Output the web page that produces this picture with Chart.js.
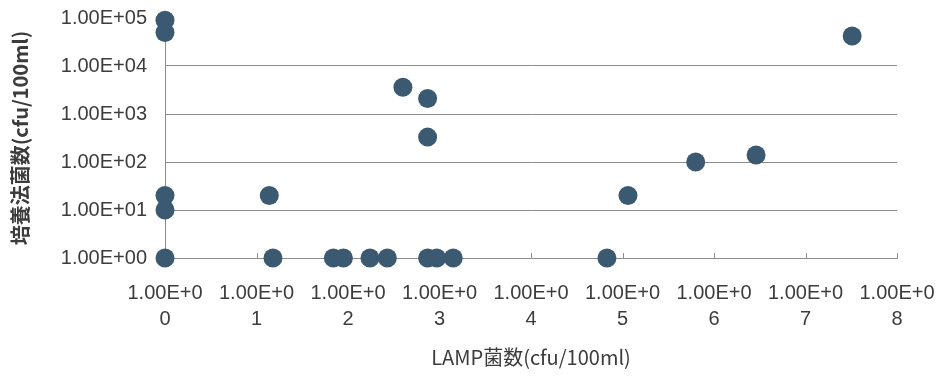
<!DOCTYPE html>
<html>
<head>
<meta charset="utf-8">
<script src="https://cdn.jsdelivr.net/npm/chart.js@4/dist/chart.umd.min.js"></script>
<style>
  html, body { margin: 0; padding: 0; background: #ffffff; }
  #wrap { width: 938px; height: 376px; position: relative; }
</style>
</head>
<body>
<div id="wrap"><canvas id="c" width="938" height="376"></canvas></div>
<script>
// LAMP count (exponent position on the x axis) vs. culture count (cfu/100ml)
const lampExp = [0, 0, 0, 0, 0, 1.14, 1.18, 1.84, 1.95, 2.24, 2.43, 2.87, 2.97, 3.15, 2.60, 2.87, 2.87, 4.83, 5.06, 5.80, 6.46, 7.51];
const cultureCfu = [90000, 50000, 20, 10, 1, 20, 1, 1, 1, 1, 1, 1, 1, 1, 3600, 2100, 330, 1, 20, 100, 140, 42000];

// Tick labels
const xTickLabels = [
  ['1.00E+0', '0'], ['1.00E+0', '1'], ['1.00E+0', '2'], ['1.00E+0', '3'], ['1.00E+0', '4'],
  ['1.00E+0', '5'], ['1.00E+0', '6'], ['1.00E+0', '7'], ['1.00E+0', '8']
];
const yTickValues = [1, 10, 100, 1000, 10000, 100000];
const yTickLabels = ['1.00E+00', '1.00E+01', '1.00E+02', '1.00E+03', '1.00E+04', '1.00E+05'];

const points = lampExp.map((x, i) => ({ x: x, y: cultureCfu[i] }));

const AXIS_GRAY = '#8c8c8c';
const TEXT = '#3c3c3c';
const DOT = '#3b5970';

// short upward tick marks on the x axis
const innerTicks = {
  id: 'innerTicks',
  beforeDatasetsDraw(chart) {
    const xs = chart.scales.x;
    const y0 = chart.scales.y.getPixelForValue(1);
    const ctx = chart.ctx;
    ctx.save();
    ctx.strokeStyle = AXIS_GRAY;
    ctx.lineWidth = 1;
    xs.ticks.forEach(t => {
      const px = Math.round(xs.getPixelForValue(t.value)) + 0.5;
      ctx.beginPath();
      ctx.moveTo(px, y0);
      ctx.lineTo(px, y0 - 5);
      ctx.stroke();
    });
    ctx.restore();
  }
};

new Chart(document.getElementById('c'), {
  type: 'scatter',
  data: {
    datasets: [{
      data: points,
      backgroundColor: DOT,
      borderWidth: 0,
      pointRadius: 9.5,
      pointHoverRadius: 9.5,
      clip: false
    }]
  },
  options: {
    responsive: false,
    animation: false,
    events: [],
    layout: { padding: { left: 0, right: 41, top: 18, bottom: 0 } },
    plugins: { legend: { display: false }, tooltip: { enabled: false } },
    scales: {
      x: {
        type: 'linear',
        min: 0,
        max: 8,
        afterBuildTicks(scale) {
          scale.ticks = xTickLabels.map((_, i) => ({ value: i }));
        },
        afterFit(scale) {
          scale.height = 118;
          scale.paddingLeft = 0;
          scale.paddingRight = 0;
        },
        ticks: {
          callback: (v) => xTickLabels[v],
          color: TEXT,
          font: { family: '"Liberation Sans", Arial, sans-serif', size: 20, lineHeight: 1.3 },
          padding: 22,
          maxRotation: 0,
          autoSkip: false
        },
        grid: { display: false, drawTicks: false },
        border: { display: true, color: AXIS_GRAY, width: 1 },
        title: {
          display: true,
          text: 'LAMP菌数(cfu/100ml)',
          color: TEXT,
          font: { family: '"Noto Sans CJK JP", "Noto Sans", sans-serif', size: 20, lineHeight: 1.2 },
          padding: { top: 0, bottom: 7 }
        }
      },
      y: {
        type: 'logarithmic',
        min: 1,
        max: 100000,
        afterBuildTicks(scale) {
          scale.ticks = yTickValues.map(v => ({ value: v }));
        },
        afterFit(scale) {
          scale.width = 165;
          scale.paddingTop = 0;
          scale.paddingBottom = 0;
        },
        ticks: {
          callback: (v) => yTickLabels[yTickValues.indexOf(v)],
          color: TEXT,
          font: { family: '"Liberation Sans", Arial, sans-serif', size: 20 },
          padding: 18
        },
        grid: {
          drawTicks: false,
          color: (ctx) => (ctx.tick && (ctx.tick.value === 100000 || ctx.tick.value === 1)) ? 'rgba(0,0,0,0)' : AXIS_GRAY,
          lineWidth: 1
        },
        border: { display: true, color: AXIS_GRAY, width: 1 },
        title: {
          display: true,
          text: '培養法菌数(cfu/100ml)',
          color: TEXT,
          font: { family: '"Noto Sans CJK JP", "Noto Sans", sans-serif', size: 20, weight: 'bold', lineHeight: 1.2 },
          padding: { top: 8, bottom: 0 }
        }
      }
    }
  },
  plugins: [innerTicks]
});
</script>
</body>
</html>
